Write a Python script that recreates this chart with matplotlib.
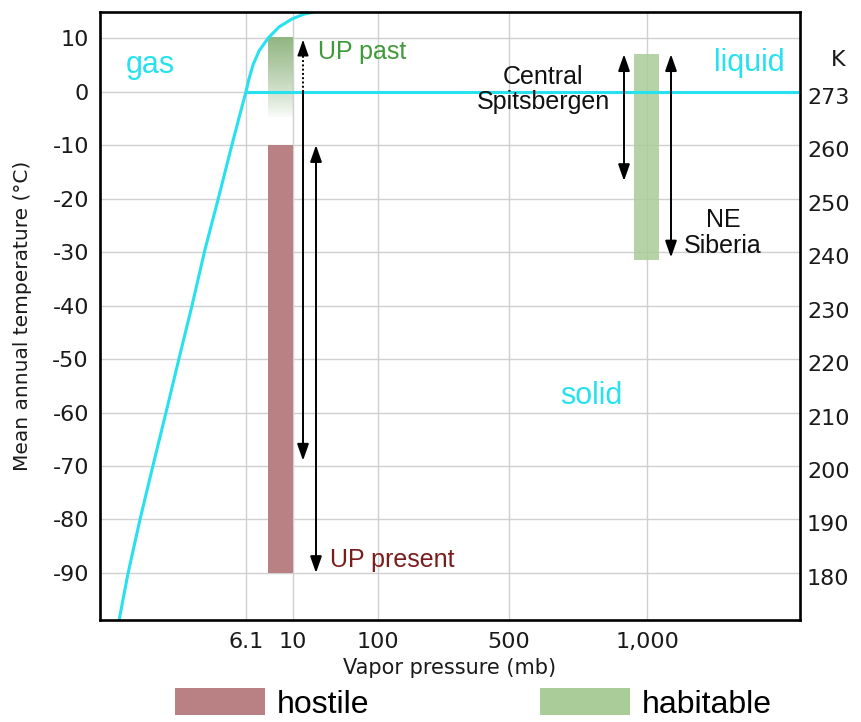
import numpy as np
import matplotlib
matplotlib.use("Agg")
import matplotlib.pyplot as plt
from matplotlib import font_manager
from matplotlib.patches import Patch
from matplotlib.transforms import ScaledTranslation, blended_transform_factory

# ---------------- data ----------------
# schematic pressure axis: tick positions (axis units) and their labels
pressure_tick_pos = [1.46, 1.93, 2.78, 4.09, 5.47]
pressure_tick_labels = ["6.1", "10", "100", "500", "1,000"]

# left axis (deg C) and the Kelvin labels written beside each gridline
celsius_ticks = [10, 0, -10, -20, -30, -40, -50, -60, -70, -80, -90]
kelvin_tick_pos = [0, -10, -20, -30, -40, -50, -60, -70, -80, -90]
kelvin_tick_labels = ["273", "260", "250", "240", "230", "220", "210", "200", "190", "180"]

# sublimation / vaporisation boundary (axis position, deg C)
curve_pos = [0.19, 0.28, 0.40, 0.53, 0.66, 0.79, 0.92, 1.05, 1.18, 1.32, 1.39,
             1.46, 1.49, 1.53, 1.59, 1.68, 1.79, 1.92, 2.04, 2.16]
curve_temp = [-98.9, -90.1, -80.0, -69.9, -60.0, -49.9, -40.0, -29.5, -20.2, -9.9, -4.9,
              0.0, 2.4, 5.0, 7.6, 10.0, 12.1, 13.6, 14.5, 15.0]
# melting line at 0 deg C, from the triple point to the right edge
melt_pos = [1.46, 7.0]
melt_temp = [0, 0]

# temperature bands (bottom, top) in deg C
up_present_band = (-90, -10)      # hostile
up_past_band = (-5, 10)           # habitable, fading downward
arctic_band = (-31.5, 7)          # habitable
band_x = {"up": (1.68, 1.93), "arctic": (5.34, 5.59)}

# temperature ranges marked with arrows (x position, low, high)
arrow_up_past = (2.03, -69, 9.7)
arrow_up_present = (2.16, -90, -10)
arrow_spitsbergen = (5.24, -16.7, 7)
arrow_siberia = (5.71, -31, 7)

# ---------------- style ----------------
CYAN = "#27e1ee"
HOSTILE = "#b98184"
HABITABLE = "#a9cc98"
PAST_GREEN = "#8db37d"
GRID = "#d0d0d0"
TICK_FONT = "DejaVu Sans"
ANNOT_FONT = "Liberation Sans"

fig = plt.figure(figsize=(8.61, 7.22), dpi=100)
ax = fig.add_axes([100 / 861, 102 / 722, 700 / 861, 608 / 722])
ax.set_xlim(0, 7.0)
ax.set_ylim(-98.8, 14.9)

# grid
for t in celsius_ticks:
    ax.axhline(t, color=GRID, lw=1.0, zorder=0)
for p in pressure_tick_pos:
    ax.axvline(p, color=GRID, lw=1.0, zorder=0)

# bands
x0, x1 = band_x["up"]
ax.bar((x0 + x1) / 2, up_present_band[1] - up_present_band[0], width=x1 - x0,
       bottom=up_present_band[0], color=HOSTILE, zorder=2)
ax0, ax1_ = band_x["arctic"]
ax.bar((ax0 + ax1_) / 2, arctic_band[1] - arctic_band[0], width=ax1_ - ax0,
       bottom=arctic_band[0], color=HABITABLE, alpha=0.85, zorder=2)

# fading band for the past climate
n = 200
rgb = np.array(matplotlib.colors.to_rgb(PAST_GREEN))
alpha = np.linspace(0.95, 0.0, n) ** 0.8
grad = np.zeros((n, 1, 4))
grad[:, 0, :3] = rgb
grad[:, 0, 3] = alpha
ax.imshow(grad, extent=[x0, x1, up_past_band[0], up_past_band[1]], origin="upper",
          aspect="auto", zorder=2, interpolation="bilinear")

# phase boundaries
ax.plot(curve_pos, curve_temp, color=CYAN, lw=2.2, zorder=3, solid_capstyle="round",
        solid_joinstyle="round")
ax.plot(melt_pos, melt_temp, color=CYAN, lw=2.2, zorder=3)

# arrows
head = "head_length=1.0,head_width=0.35"


def range_arrow(x, lo, hi):
    ax.annotate("", xy=(x, hi), xytext=(x, lo),
                arrowprops=dict(arrowstyle="<|-|>," + head, mutation_scale=10,
                                color="black", lw=1.4, shrinkA=0, shrinkB=0),
                zorder=4)


range_arrow(*arrow_up_present)
range_arrow(*arrow_spitsbergen)
range_arrow(*arrow_siberia)

# UP past: solid below the melting line, dotted above it
xp, lo, hi = arrow_up_past
ax.annotate("", xy=(xp, lo), xytext=(xp, 0),
            arrowprops=dict(arrowstyle="-|>," + head, mutation_scale=10, color="black",
                            lw=1.4, shrinkA=0, shrinkB=0), zorder=4)
ax.plot([xp, xp], [0, hi - 2.0], color="black", lw=1.4, ls=(0, (1, 1.2)), zorder=4)
ax.annotate("", xy=(xp, hi), xytext=(xp, hi - 2.1),
            arrowprops=dict(arrowstyle="-|>," + head, mutation_scale=10, color="black",
                            lw=1.0, shrinkA=0, shrinkB=0), zorder=4)

# region and climate labels
ax.text(0.50, 5.0, "gas", color=CYAN, fontsize=22, family=ANNOT_FONT, ha="center", va="center")
ax.text(6.49, 5.4, "liquid", color=CYAN, fontsize=22, family=ANNOT_FONT, ha="center", va="center")
ax.text(4.91, -57.0, "solid", color=CYAN, fontsize=22, family=ANNOT_FONT, ha="center", va="center")
ax.text(2.18, 7.5, "UP past", color="#3f9a3a", fontsize=18, family=ANNOT_FONT, ha="left", va="center")
ax.text(2.30, -87.5, "UP present", color="#7b1c1c", fontsize=18, family=ANNOT_FONT,
        ha="left", va="center")
ax.text(4.43, 0.4, "Central\nSpitsbergen", color="#111111", fontsize=18, family=ANNOT_FONT,
        ha="center", va="center", multialignment="center", linespacing=1.1)
ax.text(6.23, -26.4, "NE\nSiberia", color="#111111", fontsize=18, family=ANNOT_FONT,
        ha="center", va="center", multialignment="center", linespacing=1.1)

# axes, ticks, frame
ax.set_xticks(pressure_tick_pos)
ax.set_xticklabels(pressure_tick_labels)
ax.set_yticks(celsius_ticks)
ax.set_yticklabels([str(t) for t in celsius_ticks])
ax.tick_params(axis="both", length=0, labelsize=16, colors="#1a1a1a")
ax.tick_params(axis="x", pad=9)
ax.tick_params(axis="y", pad=8)
for lab in ax.get_xticklabels() + ax.get_yticklabels():
    lab.set_family(TICK_FONT)
for s in ax.spines.values():
    s.set_linewidth(1.9)
    s.set_color("black")
    s.set_zorder(5)

ax.set_xlabel("Vapor pressure (mb)", fontsize=15, family=TICK_FONT, color="#1a1a1a")
ax.xaxis.set_label_coords(0.5, -0.063)
ax.set_ylabel("Mean annual temperature (°C)", fontsize=14.5, family=TICK_FONT, color="#1a1a1a")
ax.yaxis.set_label_coords(-0.097, 0.5)

# Kelvin labels on the right
axk = ax.twinx()
axk.set_ylim(ax.get_ylim())
axk.set_yticks(kelvin_tick_pos)
axk.set_yticklabels(kelvin_tick_labels)
axk.tick_params(axis="y", length=0, labelsize=16, colors="#1a1a1a", pad=5)
shift = ScaledTranslation(0, -4 / 100, fig.dpi_scale_trans)
for lab in axk.get_yticklabels():
    lab.set_family(TICK_FONT)
    lab.set_transform(lab.get_transform() + shift)
for s in axk.spines.values():
    s.set_visible(False)
ktrans = blended_transform_factory(ax.transAxes, ax.transData)
ax.text(1.054, 6.0, "K", transform=ktrans, fontsize=16, family=TICK_FONT,
        ha="center", va="center", color="#1a1a1a")

# legend under the axis
names = {f.name for f in font_manager.fontManager.ttflist}
if "Liberation Sans Narrow" in names:
    leg_family, leg_size = "Liberation Sans Narrow", 28
else:
    leg_family, leg_size = "Liberation Sans", 23
em = leg_size * 100 / 72.0
handles = [Patch(facecolor=HOSTILE, edgecolor="none", label="hostile"),
           Patch(facecolor=HABITABLE, edgecolor="none", label="habitable")]
fig.legend(handles=handles, loc="center left", bbox_to_anchor=(175 / 861, 1 - 704 / 722),
           ncol=2, frameon=False, borderpad=0, borderaxespad=0,
           handlelength=90 / em, handleheight=28 / em, handletextpad=12 / em,
           columnspacing=170 / em,
           prop=font_manager.FontProperties(family=leg_family, size=leg_size))

fig.savefig("out.png", dpi=100)
